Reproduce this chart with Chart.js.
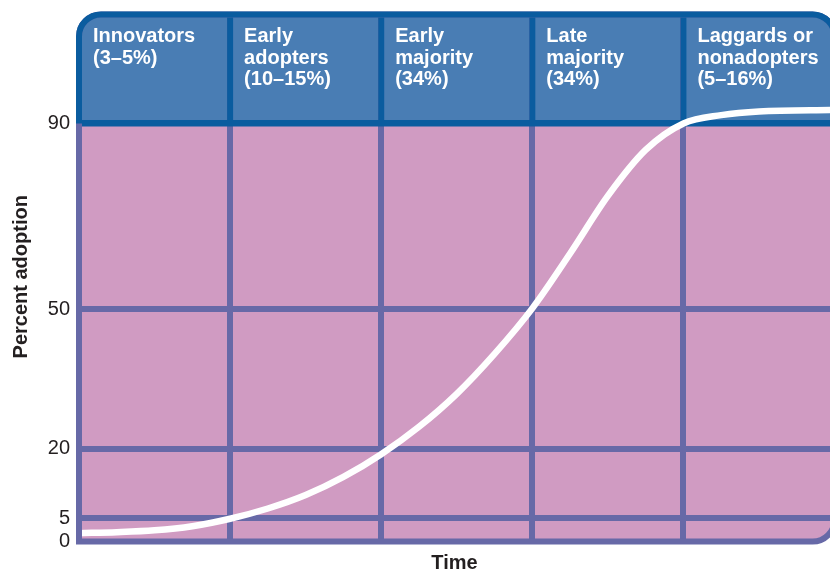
<!DOCTYPE html>
<html lang="en">
<head>
    <meta charset="UTF-8">
    <title>Diffusion of innovations</title>
    <script src="https://cdn.jsdelivr.net/npm/chart.js"></script>
    <style>
        body { margin: 0; background: #fff; }
    </style>
</head>
<body>
    <canvas id="adoptionChart" width="830" height="575"></canvas>
    <script>
        // adopter groups, one per column of the grid
        const stages = [
            ['Innovators', '(3–5%)'],
            ['Early', 'adopters', '(10–15%)'],
            ['Early', 'majority', '(34%)'],
            ['Late', 'majority', '(34%)'],
            ['Laggards or', 'nonadopters', '(5–16%)']
        ];
        // time in column units, adoption in percent
        const timeSteps = [0, 0.25, 0.5, 0.75, 1, 1.25, 1.5, 1.75, 2, 2.25, 2.5, 2.75, 3, 3.25, 3.5, 3.75, 4, 4.25, 4.5, 5];
        const adoption = [1.8, 2.0, 2.4, 3.3, 4.9, 7.1, 10.0, 13.9, 18.8, 24.7, 31.8, 40.4, 50.2, 62.0, 74.4, 84.3, 90.0, 91.8, 92.6, 92.9];
        const yTicks = [0, 5, 20, 50, 90];

        const pink = '#d09bc2';
        const headerBlue = '#497db4';
        const darkBlue = '#0a5c9f';
        const purple = '#6769a7';
        const textColor = '#231f20';

        Chart.defaults.font.family = "'Liberation Sans', Arial, sans-serif";

        function framePath(ctx, L, T, R, B, r) {
            ctx.beginPath();
            ctx.moveTo(L, B);
            ctx.lineTo(L, T + r);
            ctx.arcTo(L, T, L + r, T, r);
            ctx.lineTo(R - r, T);
            ctx.arcTo(R, T, R, T + r, r);
            ctx.lineTo(R, B - r);
            ctx.arcTo(R, B, R - r, B, r);
            ctx.closePath();
        }

        function frameBox(chart) {
            const x = chart.scales.x, y = chart.scales.y;
            return {
                L: x.getPixelForValue(0),
                R: x.getPixelForValue(5),
                T: chart.chartArea.top + 2.5,
                B: y.getPixelForValue(0),
                top90: y.getPixelForValue(90)
            };
        }

        const adoptionFrame = {
            id: 'adoptionFrame',
            beforeDraw(chart) {
                const ctx = chart.ctx;
                const b = frameBox(chart);
                ctx.save();
                framePath(ctx, b.L, b.T, b.R, b.B, 22);
                ctx.clip();
                ctx.fillStyle = pink;
                ctx.fillRect(b.L, b.T, b.R - b.L, b.B - b.T);
                ctx.fillStyle = headerBlue;
                ctx.fillRect(b.L, b.T - 3, b.R - b.L, b.top90 - b.T + 3);
                ctx.restore();
            },
            beforeDatasetsDraw(chart) {
                const ctx = chart.ctx;
                const x = chart.scales.x;
                const b = frameBox(chart);
                ctx.save();
                ctx.strokeStyle = darkBlue;
                ctx.lineWidth = 6;
                for (let i = 1; i < stages.length; i++) {
                    const px = x.getPixelForValue(i);
                    ctx.beginPath();
                    ctx.moveTo(px, b.T);
                    ctx.lineTo(px, b.top90);
                    ctx.stroke();
                }
                ctx.beginPath();
                ctx.moveTo(b.L, b.top90);
                ctx.lineTo(b.R, b.top90);
                ctx.stroke();

                ctx.fillStyle = '#fff';
                ctx.font = "bold 20px 'Liberation Sans', Arial, sans-serif";
                ctx.textBaseline = 'middle';
                ctx.textAlign = 'left';
                stages.forEach((lines, i) => {
                    const px = x.getPixelForValue(i) + 14;
                    lines.forEach((line, k) => {
                        ctx.fillText(line, px, chart.chartArea.top + 24.5 + k * 21.7);
                    });
                });
                ctx.restore();
            },
            afterDatasetsDraw(chart) {
                const ctx = chart.ctx;
                const b = frameBox(chart);
                ctx.save();
                ctx.lineWidth = 6;
                ctx.strokeStyle = purple;
                framePath(ctx, b.L, b.T, b.R, b.B, 22);
                ctx.stroke();
                ctx.beginPath();
                ctx.rect(0, 0, chart.width, b.top90);
                ctx.clip();
                ctx.strokeStyle = darkBlue;
                framePath(ctx, b.L, b.T, b.R, b.B, 22);
                ctx.stroke();
                ctx.restore();
            }
        };

        const ctx = document.getElementById('adoptionChart').getContext('2d');
        const chart = new Chart(ctx, {
            type: 'line',
            data: {
                datasets: [{
                    data: timeSteps.map((t, i) => ({ x: t, y: adoption[i] })),
                    borderColor: '#ffffff',
                    borderWidth: 6.5,
                    pointRadius: 0,
                    fill: false,
                    cubicInterpolationMode: 'monotone'
                }]
            },
            options: {
                responsive: false,
                animation: false,
                devicePixelRatio: 1,
                layout: { autoPadding: false, padding: { top: 12, right: 0, left: 0, bottom: 0 } },
                plugins: { legend: { display: false }, tooltip: { enabled: false } },
                scales: {
                    x: {
                        type: 'linear',
                        min: 0,
                        max: 4.97, // last column runs just past the right edge
                        ticks: { display: false, stepSize: 1 },
                        grid: {
                            color: c => (c.tick.value === 0 || c.tick.value >= 4.97) ? 'rgba(0,0,0,0)' : purple,
                            lineWidth: 6,
                            drawTicks: false
                        },
                        border: { display: false },
                        title: {
                            display: true,
                            text: 'Time',
                            color: textColor,
                            font: { size: 20, weight: 'bold' },
                            padding: { top: 0, bottom: 0 }
                        },
                        afterFit: s => { s.height = 33.5; }
                    },
                    y: {
                        min: 0,
                        max: 114,
                        afterBuildTicks: s => { s.ticks = yTicks.map(v => ({ value: v })); },
                        ticks: {
                            autoSkip: false,
                            padding: 9,
                            color: textColor,
                            font: { size: 20 }
                        },
                        grid: {
                            color: c => c.tick.value === 90 ? darkBlue : (c.tick.value === 0 ? 'rgba(0,0,0,0)' : purple),
                            lineWidth: 6,
                            drawTicks: false
                        },
                        border: { display: false },
                        title: {
                            display: true,
                            text: 'Percent adoption',
                            color: textColor,
                            font: { size: 20, weight: 'bold' },
                            padding: { top: 9, bottom: 0 }
                        },
                        afterFit: s => {
                            s.width = 79;
                            s.paddingTop = 0;
                            s.paddingBottom = 0;
                        }
                    }
                }
            },
            plugins: [adoptionFrame]
        });
    </script>
</body>
</html>
